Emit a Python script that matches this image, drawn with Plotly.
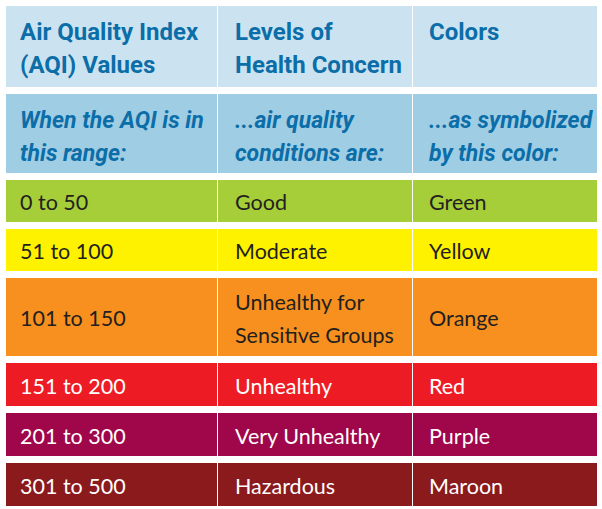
import plotly.graph_objects as go

# ---- data ----
header_titles = ["Air Quality Index<br>(AQI) Values", "Levels of<br>Health Concern", "Colors"]
header_sub = ["When the AQI is in<br>this range:", "...air quality<br>conditions are:", "...as symbolized<br>by this color:"]
aqi_ranges = ["0 to 50", "51 to 100", "101 to 150", "151 to 200", "201 to 300", "301 to 500"]
levels = ["Good", "Moderate", "Unhealthy for<br>Sensitive Groups", "Unhealthy", "Very Unhealthy", "Hazardous"]
color_names = ["Green", "Yellow", "Orange", "Red", "Purple", "Maroon"]
row_fills = ["#a6ce39", "#fff200", "#f7901e", "#ed1c24", "#a0064a", "#8a1a1c"]
row_text = ["#231f20", "#231f20", "#231f20", "#ffffff", "#ffffff", "#ffffff"]

# ---- layout geometry ----
W, H = 602, 509
col_edges = [6, 217, 218, 412, 413, 597]   # (left,right) pairs
cols = [(col_edges[0], col_edges[1]), (col_edges[2], col_edges[3]), (col_edges[4], col_edges[5])]
text_x = [18, 233, 427]
row_heights = [81, 79, 42, 42, 78, 43, 43, 43]
gap = 7
top = 6
header_bg = ["#cbe3f0", "#9fcde4"]
head_color = "#0b6ea8"
line_h = 33
head_sizes = [24, 23]

HEAD_FONT = "Roboto"
BODY_FONT = "Lato"

rows = []
y = top
for h in row_heights:
    rows.append((y, y + h))
    y += h + gap

shapes = []
annotations = []

def add_text(lines_html, x, y_center_first, size, color, family, bold=False, italic=False):
    for i, ln in enumerate(lines_html.split("<br>")):
        t = ln
        if bold:
            t = "<b>" + t + "</b>"
        if italic:
            t = "<i>" + t + "</i>"
        annotations.append(dict(x=x, y=y_center_first + i * line_h, xref="x", yref="y",
                                text=t, showarrow=False, xanchor="left", yanchor="middle",
                                font=dict(family=family, size=size, color=color)))

# header rows
for r, texts in enumerate([header_titles, header_sub]):
    y0, y1 = rows[r]
    for c, (x0, x1) in enumerate(cols):
        shapes.append(dict(type="rect", xref="x", yref="y", x0=x0, x1=x1, y0=y0, y1=y1,
                           fillcolor=header_bg[r], line=dict(width=0), layer="below"))
        add_text(texts[c], text_x[c], y0 + 26, head_sizes[r], head_color, HEAD_FONT,
                 bold=True, italic=(r == 1))

# body rows
for i in range(len(aqi_ranges)):
    y0, y1 = rows[i + 2]
    vals = [aqi_ranges[i], levels[i], color_names[i]]
    for c, (x0, x1) in enumerate(cols):
        shapes.append(dict(type="rect", xref="x", yref="y", x0=x0, x1=x1, y0=y0, y1=y1,
                           fillcolor=row_fills[i], line=dict(width=0), layer="below"))
        n = len(vals[c].split("<br>"))
        yc = (y0 + y1) / 2 - (n - 1) * line_h / 2 + 1
        add_text(vals[c], text_x[c], yc, 21.5, row_text[i], BODY_FONT)

fig = go.Figure()
fig.update_layout(
    width=W, height=H, margin=dict(l=0, r=0, t=0, b=0),
    paper_bgcolor="white", plot_bgcolor="white",
    xaxis=dict(range=[0, W], visible=False, fixedrange=True),
    yaxis=dict(range=[H, 0], visible=False, fixedrange=True),
    shapes=shapes, annotations=annotations, showlegend=False,
)
fig.write_html("out.html", config={"displayModeBar": False},
               post_script="document.body.style.margin='0';document.body.style.overflow='hidden';")
